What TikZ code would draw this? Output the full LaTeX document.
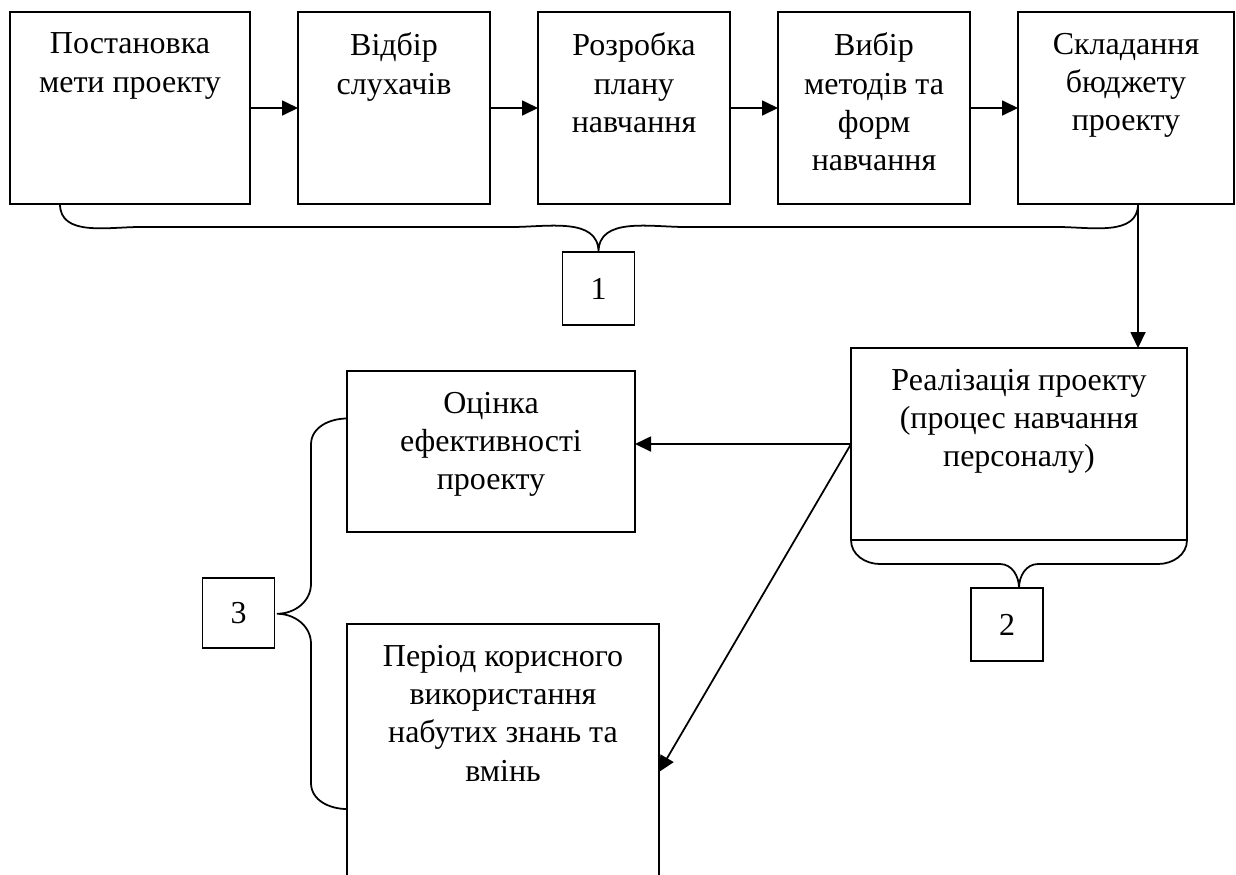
\documentclass[tikz,border=0pt]{standalone}
\usepackage{fontspec}
\setmainfont{Liberation Serif}
\usetikzlibrary{positioning,arrows.meta,calc}

\begin{document}
\begin{tikzpicture}[>={Triangle[length=0.32cm,width=0.3cm]}, line width=1pt,
    every node/.style={font=\fontsize{18.2pt}{21.8pt}\selectfont}]
    \tikzstyle{box} = [rectangle, draw, inner sep=0pt, outer sep=0pt, minimum height=3.84cm]
    \tikzstyle{boxtext} = [anchor=north, yshift=-0.4cm, align=center, inner sep=0pt]
    \tikzstyle{num} = [rectangle, draw, inner sep=0pt, outer sep=0pt, minimum width=1.44cm, minimum height=1.46cm]
    \path[use as bounding box, clip] (0,0) rectangle (24.72,-17.48);

    % stage 1: preparation of the project
    \node (goal) [box, minimum width=4.8cm, label={[boxtext]north:{Постановка\\мети проекту}}] at (2.6,-2.16) {};
    \node (listeners) [box, minimum width=3.84cm, right=0.96cm of goal, label={[boxtext]north:{Відбір\\слухачів}}] {};
    \node (plan) [box, minimum width=3.84cm, right=0.96cm of listeners, label={[boxtext]north:{Розробка\\плану\\навчання}}] {};
    \node (methods) [box, minimum width=3.84cm, right=0.96cm of plan, label={[boxtext]north:{Вибір\\методів та\\форм\\навчання}}] {};
    \node (budget) [box, minimum width=4.32cm, right=0.96cm of methods, label={[boxtext]north:{Складання\\бюджету\\проекту}}] {};
    \node (n1) [num, below=0.96cm of plan, xshift=-0.71cm] {1};

    % stage 2 and 3
    \node (impl) [box, minimum width=6.72cm, below=2.88cm of budget, xshift=-2.14cm, label={[boxtext]north:{Реалізація проекту\\(процес навчання\\персоналу)}}] {};
    \node (n2) [num, below=0.96cm of impl, xshift=-0.24cm] {2};
    \node (eval) [box, minimum width=5.76cm, minimum height=3.22cm, label={[boxtext]north:{Оцінка\\ефективності\\проекту}}] at (9.82,-9.03) {};
    \node (period) [box, minimum width=6.24cm, minimum height=5.92cm, below=1.84cm of eval.south west, anchor=north west, label={[boxtext]north:{Період корисного\\використання\\набутих знань та\\вмінь}}] {};
    \node (n3) [num, minimum height=1.4cm] at (4.77,-12.26) {3};

    \coordinate (down) at ([xshift=0.24cm]budget.south);

    \draw [->] (goal) -- (listeners);
    \draw [->] (listeners) -- (plan);
    \draw [->] (plan) -- (methods);
    \draw [->] (methods) -- (budget);
    \draw [->] (down) -- (down |- impl.north);
    \draw [->] (impl.west) -- (impl.west -| eval.east);
    \draw [->] (impl.west) -- (period.east);

    % braces
    \coordinate (b1l) at ([xshift=1cm]goal.south west);
    \draw (b1l) to[out=-90,in=180] ++(1.6,-0.46) -- ($(n1.north)+(-1.74,0.5)$) to[out=0,in=90] (n1.north)
        to[out=90,in=180] ($(n1.north)+(1.74,0.5)$) -- ($(down)+(-1.6,-0.46)$) to[out=0,in=-90] (down);
    \coordinate (t2) at ([yshift=-0.96cm]impl.south);
    \draw (impl.south west) to[out=-90,in=180] ++(0.58,-0.48) -- ($(t2)+(-0.38,0.48)$) to[out=0,in=90] (t2)
        to[out=90,in=180] ($(t2)+(0.38,0.48)$) -- ($(impl.south east)+(-0.58,-0.48)$) to[out=0,in=-90] (impl.south east);
    \coordinate (b3t) at ([yshift=0.66cm]eval.west);
    \coordinate (b3b) at ([yshift=-0.74cm]period.west);
    \coordinate (b3m) at ($(b3t)!0.5!(b3b)+(-1.4,0)$);
    \draw (b3t) to[out=180,in=90] ++(-0.72,-0.52) -- ($(b3m)+(0.68,0.6)$) to[out=-90,in=0] (b3m)
        to[out=0,in=90] ($(b3m)+(0.68,-0.6)$) -- ($(b3b)+(-0.72,0.52)$) to[out=-90,in=180] (b3b);
\end{tikzpicture}
\end{document}
